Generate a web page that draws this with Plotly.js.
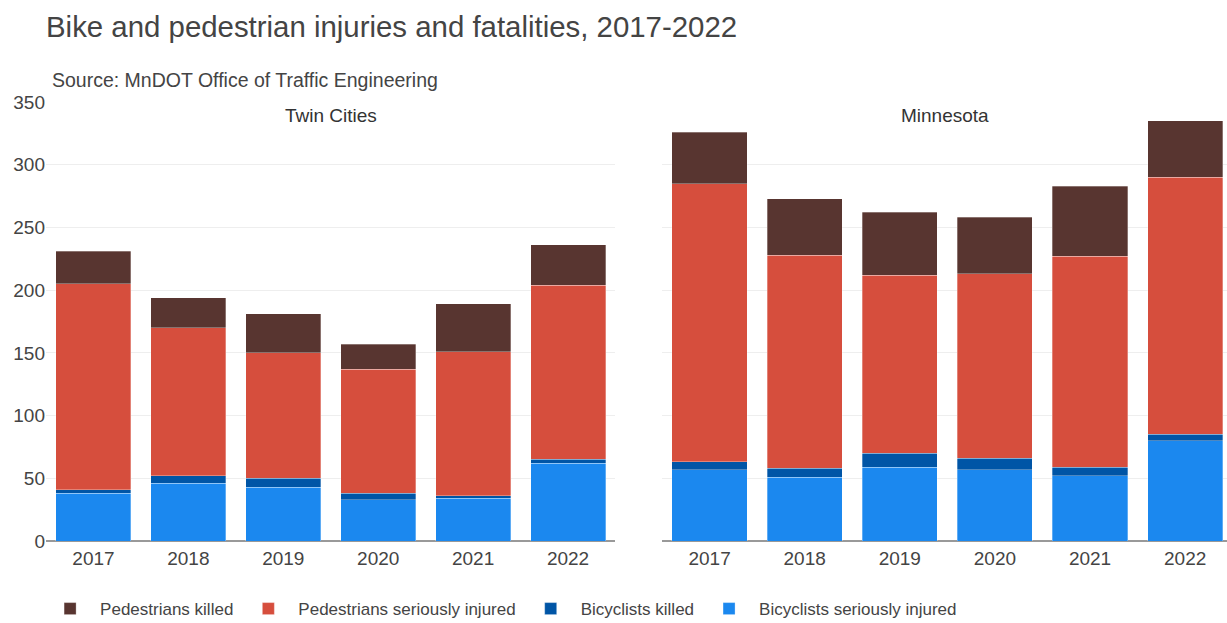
<!DOCTYPE html>
<html>
<head>
<meta charset="utf-8">
<script src="https://cdn.plot.ly/plotly-3.0.1.min.js"></script>
<style>html,body{margin:0;padding:0;background:#fff;}#chart{width:1227px;height:623px;}</style>
</head>
<body>
<div id="chart"></div>
<script>
const years = ['2017','2018','2019','2020','2021','2022'];
const seriesNames = ['Bicyclists seriously injured','Bicyclists killed','Pedestrians seriously injured','Pedestrians killed'];
const seriesColors = ['#1b88ef','#0055a6','#d64e3d','#583530'];

// Twin Cities
const tcBikeInjured = [38,46,43,33,34,62];
const tcBikeKilled  = [3,6,7,5,2,3];
const tcPedInjured  = [164,118,100,99,115,139];
const tcPedKilled   = [26,24,31,20,38,32];

// Minnesota
const mnBikeInjured = [57,51,59,57,52,80];
const mnBikeKilled  = [6,7,11,9,7,5];
const mnPedInjured  = [222,170,142,147,168,205];
const mnPedKilled   = [41,45,50,45,56,45];

const yTicks = [0,50,100,150,200,250,300,350];
const panelTitles = ['Twin Cities','Minnesota'];

const tcData = [tcBikeInjured, tcBikeKilled, tcPedInjured, tcPedKilled];
const mnData = [mnBikeInjured, mnBikeKilled, mnPedInjured, mnPedKilled];

const FONT = 'Liberation Sans, Arial, Helvetica, sans-serif';
const traces = [];
seriesNames.forEach((name, i) => {
  traces.push({type:'bar', x: years, y: tcData[i], name: name, legendgroup: name,
    marker:{color: seriesColors[i], line:{color:'rgba(255,255,255,0.6)', width:0.5}},
    xaxis:'x', yaxis:'y', showlegend: true, hoverinfo:'y'});
});
seriesNames.forEach((name, i) => {
  traces.push({type:'bar', x: years, y: mnData[i], name: name, legendgroup: name,
    marker:{color: seriesColors[i], line:{color:'rgba(255,255,255,0.6)', width:0.5}},
    xaxis:'x2', yaxis:'y2', showlegend: false, hoverinfo:'y'});
});

const axisCommon = {
  type: 'category', automargin: false,
  showgrid: false, ticks: '', tickfont: {family: FONT, size: 19, color: '#444'},
  ticklabelstandoff: 4,
  showline: false, zeroline: false, fixedrange: true
};
const yCommon = {
  range: [0, 350], tickvals: yTicks, showgrid: true, gridcolor: '#eeeeee', gridwidth: 1,
  zeroline: true, zerolinecolor: '#999999', zerolinewidth: 2, automargin: false,
  tickfont: {family: FONT, size: 19, color: '#444'}, ticks: '', fixedrange: true
};

const layout = {
  width: 1227, height: 623,
  margin: {l: 46, r: 0, t: 102, b: 82, autoexpand: false},
  paper_bgcolor: '#fff', plot_bgcolor: '#fff',
  barmode: 'stack', bargap: 0.21,
  font: {family: FONT, color: '#444'},
  title: {text: 'Bike and pedestrian injuries and fatalities, 2017-2022',
    font: {family: FONT, size: 29.4, color: '#444'},
    xref: 'container', yref: 'container', x: 46/1227, xanchor: 'left', y: 1 - 27/623, yanchor: 'middle'},
  xaxis: Object.assign({}, axisCommon, {domain: [0, 0.4822], anchor: 'y', range: [-0.5, 5.5]}),
  xaxis2: Object.assign({}, axisCommon, {domain: [0.5216, 1], anchor: 'y2', range: [-0.5, 5.44]}),
  yaxis: Object.assign({}, yCommon, {anchor: 'x'}),
  yaxis2: Object.assign({}, yCommon, {anchor: 'x2', showticklabels: false, matches: 'y'}),
  legend: {orientation: 'h', traceorder: 'reversed', x: -0.005, xanchor: 'left', y: -0.155, yanchor: 'middle',
    font: {family: FONT, size: 17, color: '#444'}, itemwidth: 50},
  annotations: [
    {text: 'Source: MnDOT Office of Traffic Engineering', xref: 'paper', yref: 'paper', x: 4/1181, y: 1 + 22/439,
     xanchor: 'left', yanchor: 'middle', showarrow: false, font: {family: FONT, size: 19.5, color: '#444'}},
    {text: panelTitles[0], xref: 'x domain', yref: 'paper', x: 0.5, y: 1 - 14/439, xanchor: 'center', yanchor: 'middle',
     showarrow: false, font: {family: FONT, size: 19, color: '#333'}},
    {text: panelTitles[1], xref: 'x2 domain', yref: 'paper', x: 0.5, y: 1 - 14/439, xanchor: 'center', yanchor: 'middle',
     showarrow: false, font: {family: FONT, size: 19, color: '#333'}}
  ]
};

Plotly.newPlot('chart', traces, layout, {displayModeBar: false, staticPlot: true});
</script>
</body>
</html>
